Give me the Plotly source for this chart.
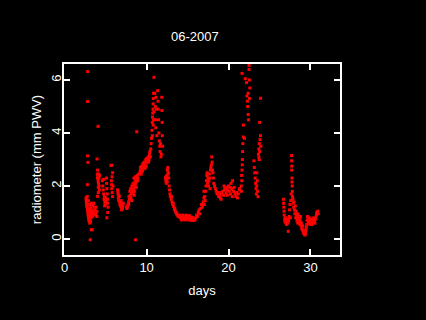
import plotly.graph_objects as go

# ---- data ----
seg_a_day = [2.80, 2.80, 2.80, 2.84, 2.76, 2.60, 2.62, 2.65, 2.68, 2.70, 2.72, 2.75, 2.78, 2.80, 2.82,
             2.85, 2.88, 2.90, 2.92, 2.95, 2.98, 3.00, 3.02, 3.05, 3.08, 3.10, 3.12, 3.15, 3.18, 3.20,
             3.22, 3.25, 3.28, 3.30, 3.32, 3.35, 3.38, 3.40, 3.45, 3.50, 3.55, 3.60, 3.65, 3.24, 3.36,
             3.12, 3.93, 3.93, 2.75, 2.90, 3.70, 3.80, 3.85]
seg_a_val = [6.32, 5.19, 3.14, 2.89, 2.05, 1.55, 1.45, 1.35, 1.25, 1.50, 1.40, 1.20, 1.10, 1.30, 1.00,
             0.90, 1.15, 0.80, 1.05, 0.70, 0.95, 1.30, 0.85, 0.60, 0.75, 1.10, 0.90, 0.65, 1.20, 1.00,
             0.80, 1.35, 1.10, 0.95, 1.25, 0.85, 1.30, 1.05, 1.30, 1.00, 1.35, 1.20, 0.90, 0.35, 0.35,
             -0.03, 0.85, 1.04, 1.60, 1.45, 1.10, 0.95, 1.20]

seg_b_day = [4.07, 3.95, 3.98, 4.00, 4.02, 4.05, 4.08, 4.10, 4.12, 4.15, 4.18, 4.20, 4.22, 4.25, 4.00, 4.10]
seg_b_val = [4.25, 3.02, 2.45, 2.30, 2.60, 2.40, 2.20, 1.95, 2.10, 2.45, 2.30, 2.00, 1.85, 2.40, 1.61, 1.75]

seg_c_day = [4.60, 4.65, 4.70, 4.75, 4.80, 4.85, 4.90, 4.95, 5.00, 5.05, 5.10, 5.12, 5.15, 5.20, 5.22,
             5.25, 5.30, 5.15, 5.25, 4.75, 4.88, 5.02]
seg_c_val = [2.20, 2.00, 1.85, 1.70, 1.50, 1.60, 1.40, 1.30, 1.55, 1.45, 2.30, 2.10, 1.90, 1.70, 1.50,
             1.35, 1.20, 0.80, 1.00, 2.25, 1.25, 1.40]

seg_d_day = [5.65, 5.75, 5.85, 5.70, 5.72, 5.75, 5.80, 5.85, 5.90, 5.78]
seg_d_val = [2.78, 2.78, 2.50, 2.20, 2.05, 1.90, 1.75, 1.60, 2.00, 2.35]

seg_e_day = [6.45, 6.50, 6.55, 6.60, 6.65, 6.70, 6.75, 6.80, 6.85, 6.90, 6.95, 7.00, 7.05, 7.10, 7.15,
             6.52, 6.62, 6.88]
seg_e_val = [1.85, 1.70, 1.55, 1.45, 1.60, 1.40, 1.30, 1.25, 1.35, 1.20, 1.10, 1.30, 1.15, 1.25, 1.35,
             1.78, 1.65, 1.45]

seg_f_day = [7.55, 7.60, 7.70, 7.75, 7.80, 7.85, 7.90, 7.95, 8.00, 8.05, 8.10, 8.15, 8.20, 8.25, 8.30,
             8.35, 8.40, 8.45, 8.50, 8.55, 8.60, 8.65, 8.70, 8.75, 8.80, 8.85, 8.90, 8.63, 8.80, 8.20,
             8.50, 7.65, 7.82, 8.02, 8.38, 8.58, 8.95, 9.05]
seg_f_val = [1.20, 1.15, 1.25, 1.30, 1.40, 1.60, 1.50, 1.80, 1.65, 1.90, 1.55, 1.75, 2.00, 1.85, 1.70,
             2.10, 1.90, 2.30, 2.05, 1.80, 2.20, 2.35, 2.10, 1.95, 2.25, 2.40, 2.20, -0.03, 4.05, 1.45,
             1.65, 1.20, 1.30, 1.55, 1.75, 2.00, 2.30, 2.45]

seg_g_day = [9.20, 9.30, 9.35, 9.40, 9.50, 9.55, 9.60, 9.70, 9.75, 9.80, 9.90, 9.95, 10.00, 10.10, 10.20,
             10.30, 10.35, 10.40, 10.45, 10.50, 9.25, 9.45, 9.65, 9.85, 10.05, 10.25]
seg_g_val = [2.55, 2.65, 2.45, 2.75, 2.60, 2.85, 2.70, 2.90, 2.65, 2.80, 3.00, 2.75, 2.90, 2.95, 3.10,
             3.00, 3.20, 3.30, 3.10, 3.40, 2.70, 2.55, 2.80, 2.70, 3.05, 2.90]

seg_h_day = [10.55, 10.60, 10.65, 10.70, 10.72, 10.75, 10.78, 10.80, 10.82, 10.85, 10.90, 10.80, 10.70,
             10.85, 10.90, 11.00, 11.05, 11.10, 11.12, 11.15, 11.20, 11.25]
seg_h_val = [3.60, 3.80, 4.10, 4.40, 4.60, 4.75, 4.90, 5.10, 5.30, 5.50, 6.10, 4.30, 3.90,
             4.50, 4.80, 5.50, 5.00, 4.50, 4.20, 5.35, 4.90, 3.90]

seg_i_day = [11.35, 11.40, 11.42, 11.45, 11.50, 11.55, 11.60, 11.65, 11.70, 11.75, 11.80, 11.85, 11.87,
             11.90, 11.92, 11.95]
seg_i_val = [5.60, 5.20, 4.90, 4.50, 4.00, 3.70, 3.50, 3.30, 3.60, 3.10, 3.20, 5.35, 4.85,
             4.40, 3.90, 3.50]

seg_j_day = [12.30, 12.35, 12.40, 12.45, 12.50, 12.55, 12.60, 12.65, 12.70, 12.75, 12.80, 12.85, 12.90,
             12.38, 12.52, 12.62]
seg_j_val = [2.30, 2.20, 2.10, 2.25, 2.40, 2.60, 2.70, 2.50, 2.30, 2.00, 1.85, 1.70, 1.60,
             2.35, 2.15, 2.45]

seg_k_day = [13.00, 13.10, 13.20, 13.30, 13.40, 13.50, 13.60, 13.70, 13.80, 13.90, 14.00, 14.10, 14.20,
             14.30, 14.40, 14.50, 14.60, 14.70, 14.80, 14.90, 15.00, 15.10, 15.20, 15.30, 15.40, 15.50,
             15.60, 15.70, 15.80, 15.90, 13.05, 13.25, 13.45, 13.65, 13.85, 14.05, 14.25, 14.45, 14.65,
             14.85, 15.05, 15.25, 15.45, 15.65]
seg_k_val = [1.50, 1.40, 1.30, 1.22, 1.12, 1.05, 1.00, 0.95, 0.90, 0.88, 0.85, 0.80, 0.82,
             0.78, 0.80, 0.76, 0.85, 0.78, 0.82, 0.75, 0.80, 0.86, 0.78, 0.80, 0.75, 0.82,
             0.72, 0.70, 0.74, 0.72, 1.60, 1.35, 1.15, 0.95, 0.85, 0.90, 0.72, 0.90, 0.72,
             0.90, 0.72, 0.88, 0.70, 0.80]

seg_l_day = [16.00, 16.10, 16.20, 16.30, 16.40, 16.50, 16.60, 16.70, 16.80, 16.90, 17.00, 17.05, 17.10,
             17.20, 17.25, 17.30, 17.35, 17.40, 17.45, 17.50, 17.55, 17.60, 17.65, 17.70, 17.75, 17.80,
             17.85, 17.90, 17.95, 18.00, 18.05, 18.10, 18.15, 18.20, 17.00, 17.15]
seg_l_val = [0.80, 0.90, 0.85, 1.00, 1.10, 0.95, 1.15, 1.30, 1.20, 1.40, 1.55, 1.30, 1.60,
             1.80, 2.00, 2.20, 2.40, 2.50, 2.10, 2.30, 2.00, 2.20, 2.45, 2.30, 1.90, 2.60,
             2.70, 2.80, 3.10, 2.90, 2.60, 2.50, 2.30, 2.10, 1.80, 1.45]

seg_m_day = [18.30, 18.40, 18.50, 18.60, 18.70, 18.80, 18.90, 19.00, 19.05, 19.10, 19.20, 19.30, 19.40,
             19.50, 19.60, 19.70, 19.80, 19.90, 20.00, 20.10, 20.20, 20.30, 20.40, 20.50, 20.60, 20.70,
             20.80, 20.90, 21.00, 21.10, 21.20, 21.30, 21.35, 20.45, 20.25, 19.85, 19.45]
seg_m_val = [2.00, 1.90, 1.80, 1.70, 1.75, 1.60, 1.65, 1.55, 1.75, 1.50, 1.70, 1.80, 1.65,
             1.85, 1.90, 1.75, 1.95, 1.85, 2.00, 1.80, 1.95, 2.10, 1.90, 2.20, 1.80, 1.95,
             1.70, 1.60, 1.75, 1.55, 1.70, 1.85, 1.90, 1.60, 1.70, 1.65, 2.00]

seg_n_day = [21.55, 21.60, 21.65, 21.68, 21.70, 21.72, 21.75, 21.80, 21.82, 21.65, 21.95, 22.05, 22.20,
             22.25, 22.30, 22.35, 22.40, 22.45, 22.50, 22.55, 22.60, 22.55, 22.50, 22.40, 21.58, 21.62]
seg_n_val = [2.00, 2.40, 2.60, 2.80, 3.00, 3.30, 3.60, 3.85, 4.30, 6.25, 3.80, 6.05, 5.90,
             5.40, 5.20, 5.00, 4.70, 4.50, 6.55, 6.00, 5.70, 5.30, 6.40, 5.50, 1.80, 2.20]

seg_o_day = [23.10, 23.15, 23.20, 23.25, 23.30, 23.35, 23.40, 23.45, 23.50, 23.55, 23.60, 23.45]
seg_o_val = [2.95, 2.70, 2.50, 2.30, 2.10, 1.90, 1.70, 2.00, 2.20, 1.80, 1.60, 2.50]

seg_p_day = [23.65, 23.70, 23.75, 23.80, 23.85, 23.90, 23.95, 23.80, 23.92, 23.75, 23.70]
seg_p_val = [3.20, 3.40, 3.60, 3.30, 3.75, 3.90, 3.50, 4.40, 5.31, 3.00, 3.10]

seg_q_day = [26.70, 26.72, 26.75, 26.78, 26.80, 26.85, 26.90, 26.95, 27.00, 27.05, 27.10, 27.15, 27.20,
             27.25, 27.30, 27.35, 27.40, 27.45, 27.50, 27.55, 27.60, 27.65, 27.70, 27.70, 27.72, 27.72,
             27.75, 27.75, 27.78, 27.80, 27.82, 27.85, 27.90, 27.95, 28.00, 28.05, 28.10, 28.15, 28.20,
             28.25]
seg_q_val = [1.50, 1.35, 1.20, 1.05, 0.90, 0.75, 0.65, 0.80, 0.60, 0.70, 0.55, 0.65, 0.75,
             0.60, 0.29, 0.70, 0.85, 1.10, 1.30, 0.80, 1.45, 1.70, 3.15, 2.95, 2.75, 2.60,
             2.30, 2.15, 2.00, 1.80, 1.60, 1.50, 1.35, 1.20, 1.40, 1.10, 0.95, 1.25, 0.80,
             1.05]

seg_r_day = [28.30, 28.35, 28.40, 28.45, 28.50, 28.55, 28.60, 28.65, 28.70, 28.75, 28.80, 28.85, 28.90,
             28.95, 29.00, 29.05, 29.10, 29.15, 29.20, 29.25, 29.30, 29.35, 29.40, 29.45, 29.50, 29.55,
             29.60, 29.65, 29.70, 29.75, 29.80, 29.85, 29.90, 29.95, 30.00, 30.05, 30.10, 30.15, 30.20,
             30.30, 30.35, 30.40, 30.50, 30.55, 30.60, 30.70, 30.75, 30.80, 30.90, 30.95]
seg_r_val = [0.85, 0.70, 0.95, 0.60, 0.75, 0.90, 0.65, 0.80, 0.55, 0.70, 0.85, 0.50, 0.60,
             0.40, 0.35, 0.50, 0.30, 0.25, 0.20, 0.30, 0.18, 0.15, 0.25, 0.35, 0.45, 0.55,
             0.70, 0.85, 0.75, 0.60, 0.70, 0.80, 0.65, 0.55, 0.70, 0.60, 0.75, 0.65, 0.55,
             0.60, 0.70, 0.80, 0.70, 0.60, 0.75, 0.85, 0.95, 1.00, 1.05, 0.95]

x_ticks = [0, 10, 20, 30]
y_ticks = [0, 2, 4, 6]

days = (seg_a_day + seg_b_day + seg_c_day + seg_d_day + seg_e_day + seg_f_day + seg_g_day +
        seg_h_day + seg_i_day + seg_j_day + seg_k_day + seg_l_day + seg_m_day + seg_n_day +
        seg_o_day + seg_p_day + seg_q_day + seg_r_day)
pwv = (seg_a_val + seg_b_val + seg_c_val + seg_d_val + seg_e_val + seg_f_val + seg_g_val +
       seg_h_val + seg_i_val + seg_j_val + seg_k_val + seg_l_val + seg_m_val + seg_n_val +
       seg_o_val + seg_p_val + seg_q_val + seg_r_val)

FONT = "Liberation Sans"

fig = go.Figure()
fig.add_trace(go.Scatter(
    x=days, y=pwv, mode="markers",
    marker=dict(symbol="square", size=3, color="#FF0000", line=dict(width=0)),
    showlegend=False,
))

axis_common = dict(
    showgrid=False, zeroline=False, showline=True, linecolor="white", linewidth=1.5,
    mirror="ticks", ticks="inside", ticklen=6, tickwidth=1.5, tickcolor="white",
    tickfont=dict(family=FONT, size=13, color="white"),
)

fig.update_layout(
    width=426, height=320,
    paper_bgcolor="black", plot_bgcolor="black",
    margin=dict(l=64, r=86, t=64, b=65),
    title=dict(text="06-2007", x=202 / 426, xanchor="center", y=1 - 36 / 320, yanchor="middle",
               yref="container", xref="paper",
               font=dict(family=FONT, size=13, color="white")),
    xaxis=dict(range=[-0.085, 33.61], tickvals=x_ticks, ticktext=[str(v) for v in x_ticks],
               title=dict(text="days", standoff=12, font=dict(family=FONT, size=13, color="white")),
               **axis_common),
    yaxis=dict(range=[-0.604, 6.604], tickvals=y_ticks, ticktext=[str(v) for v in y_ticks],
               tickangle=-90, ticklabelstandoff=-4,
               title=dict(text="radiometer (mm PWV)", standoff=4,
                          font=dict(family=FONT, size=13, color="white")),
               **axis_common),
)

fig.write_html(
    "out.html",
    config={"displayModeBar": False},
    post_script="document.body.style.margin='0';document.body.style.background='black';",
)
